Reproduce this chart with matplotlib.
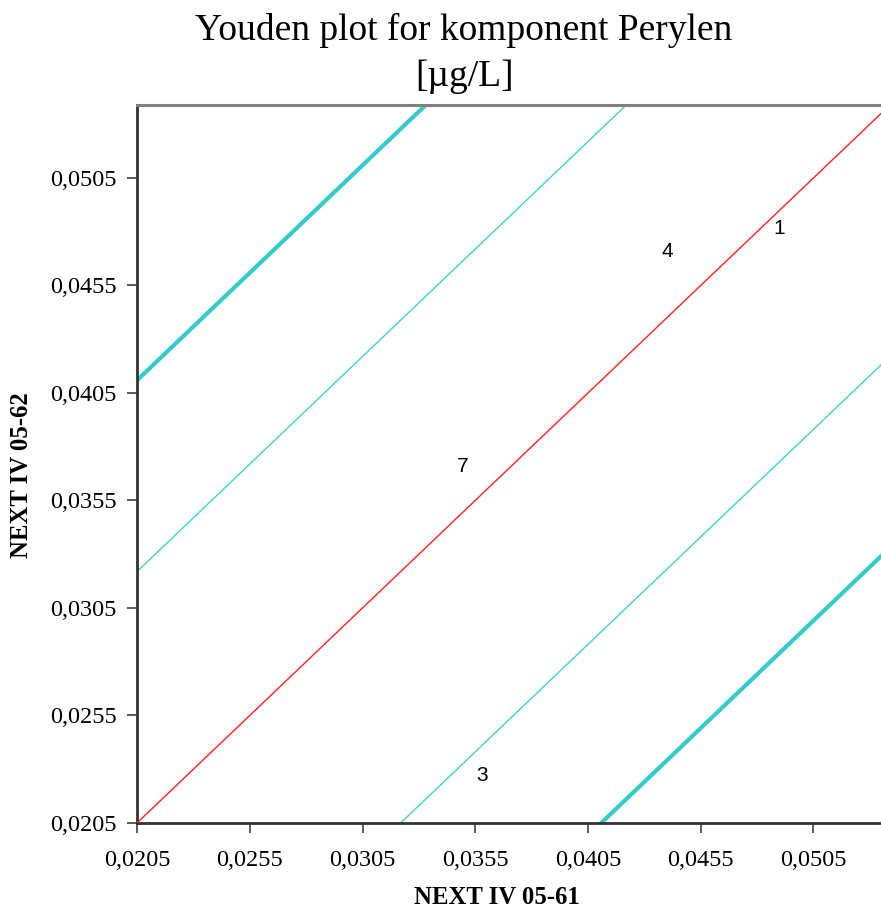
import numpy as np
import matplotlib
matplotlib.use("Agg")
import matplotlib.pyplot as plt

# Axis ranges and ticks
x_min, x_max = 0.0205, 0.0539
y_min, y_max = 0.0205, 0.0539
tick_values = [0.0205, 0.0255, 0.0305, 0.0355, 0.0405, 0.0455, 0.0505]
tick_labels = ["0,0205", "0,0255", "0,0305", "0,0355", "0,0405", "0,0455", "0,0505"]

# Diagonal reference lines y = x + offset
inner_offset = 0.0117
outer_offset = 0.0206

# Lab labels and their positions
lab_ids = ["1", "4", "7", "3"]
lab_x = [0.04898, 0.04401, 0.03495, 0.0358]
lab_y = [0.04817, 0.04709, 0.03708, 0.02268]

W, H = 881, 914
fig = plt.figure(figsize=(W / 100, H / 100), dpi=100)
ax = fig.add_axes([137.3 / W, 91.3 / H, (890 - 137.3) / W, (822.7 - 105) / H])
ax.set_xlim(x_min, x_max)
ax.set_ylim(y_min, y_max)

xs = np.array([x_min - 0.05, x_max + 0.05])
ax.plot(xs, xs, color="#ff2020", lw=1.0, zorder=3)
for off in (inner_offset, -inner_offset):
    ax.plot(xs, xs + off, color="#40d0d0", lw=1.0, zorder=2)
for off in (outer_offset, -outer_offset):
    ax.plot(xs, xs + off, color="#33cccc", lw=3.0, zorder=2)

for lab, x, y in zip(lab_ids, lab_x, lab_y):
    ax.text(x, y, lab, ha="center", va="center", fontsize=15,
            family="Liberation Sans", color="black", zorder=4)

ax.set_xticks(tick_values)
ax.set_xticklabels(tick_labels)
ax.set_yticks(tick_values)
ax.set_yticklabels(tick_labels)
for lbl in ax.get_xticklabels() + ax.get_yticklabels():
    lbl.set_family("Liberation Serif")
    lbl.set_fontsize(17.5)
ax.tick_params(axis="both", direction="out", length=7, width=1.2,
               color="#404040")
ax.tick_params(axis="x", pad=12.5)
ax.tick_params(axis="y", pad=8)

for side in ("left", "bottom"):
    ax.spines[side].set_color("#333333")
    ax.spines[side].set_linewidth(2.0)
ax.spines["top"].set_color("#808080")
ax.spines["top"].set_linewidth(2.2)
ax.spines["right"].set_color("#808080")
ax.spines["right"].set_linewidth(2.2)

fig.text(464 / W, 1 - 30 / H, "Youden plot for komponent Perylen",
         ha="center", va="center", fontsize=27, family="Liberation Serif")
fig.text(464 / W, 1 - 77 / H, "[\u00b5g/L]",
         ha="center", va="center", fontsize=27, family="Liberation Serif")
fig.text(497 / W, 1 - 897 / H, "NEXT IV 05-61", ha="center", va="center",
         fontsize=17.8, fontweight="bold", family="Liberation Serif")
fig.text(22 / W, 1 - 475 / H, "NEXT IV 05-62", ha="center", va="center",
         rotation=90, fontsize=17.8, fontweight="bold", family="Liberation Serif")

fig.savefig("out.png", dpi=100)
